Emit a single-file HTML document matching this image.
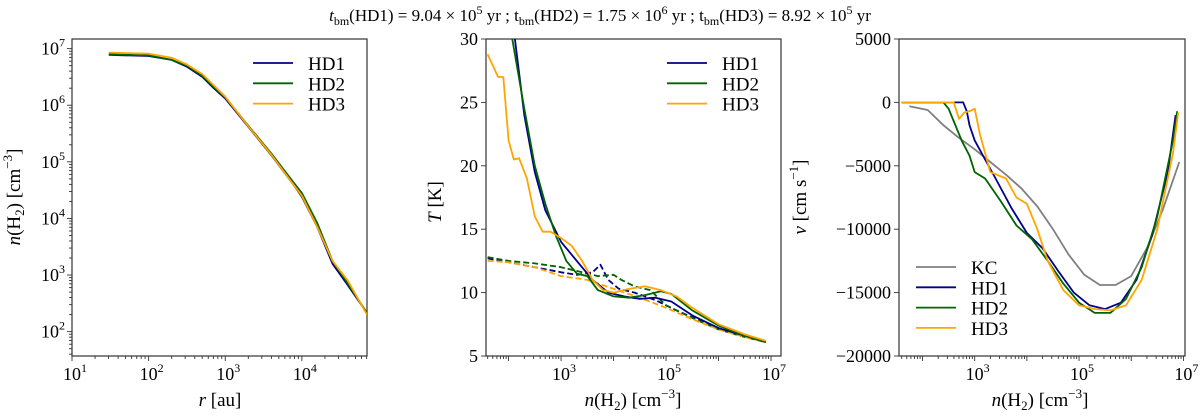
<!DOCTYPE html>
<html><head><meta charset="utf-8"><style>
body{margin:0;background:#fff}
svg{display:block;font-family:"Liberation Serif",serif}
</style></head><body>
<svg id="fig" width="1200" height="418" viewBox="0 0 1200 418" xmlns="http://www.w3.org/2000/svg">
<text x="600" y="21" text-anchor="middle" font-size="17"><tspan font-style="italic">t</tspan><tspan font-size="12" dy="4">bm</tspan><tspan dy="-4">(HD1) = 9.04 × 10</tspan><tspan font-size="12" dy="-7">5</tspan><tspan dy="7"> yr ; t</tspan><tspan font-size="12" dy="4">bm</tspan><tspan dy="-4">(HD2) = 1.75 × 10</tspan><tspan font-size="12" dy="-7">6</tspan><tspan dy="7"> yr ; t</tspan><tspan font-size="12" dy="4">bm</tspan><tspan dy="-4">(HD3) = 8.92 × 10</tspan><tspan font-size="12" dy="-7">5</tspan><tspan dy="7"> yr</tspan></text>
</svg>
<script>
// ---- data (log10 x, y) ----
const densX = [1.48,2.0,2.3,2.5,2.7,2.85,3.0,3.3,3.6,3.9,4.0,4.2,4.4,4.6,4.85];
const densHD1 = [6.89,6.87,6.8,6.68,6.5,6.3,6.12,5.62,5.12,4.58,4.38,3.85,3.2,2.82,2.33];
const densHD2 = [6.9,6.88,6.8,6.7,6.52,6.32,6.14,5.64,5.15,4.62,4.45,3.92,3.25,2.85,2.33];
const densHD3 = [6.93,6.91,6.84,6.72,6.55,6.35,6.15,5.63,5.13,4.58,4.4,3.85,3.25,2.9,2.3];

const tHD1sX = [2.12,2.3,2.5,2.7,3.0,3.3,3.6,3.9,4.2,4.5,4.8,5.1,5.5,6.0,6.5,6.9];
const tHD1s = [30,24,19.5,16.5,14,12.5,11,10,9.7,9.5,9.6,9.3,8.2,7.2,6.6,6.1];
const tHD2sX = [2.05,2.3,2.5,2.7,2.9,3.1,3.3,3.5,3.7,4.0,4.3,4.6,4.9,5.1,5.5,6.0,6.5,6.9];
const tHD2s = [30.5,24.5,20,17,14.5,12.5,11.5,11.3,10.2,9.7,9.6,9.8,10.1,9.9,8.6,7.4,6.6,6.1];
const tHD3sX = [1.6,1.8,1.9,2.0,2.1,2.2,2.35,2.5,2.65,2.8,3.0,3.2,3.4,3.6,3.8,4.0,4.3,4.6,4.9,5.2,5.5,6.0,6.5,6.9];
const tHD3s = [28.8,27,27,22,20.5,20.6,19,16,14.8,14.8,14.3,13.7,12.5,11,10.2,10,10.3,10.5,10.2,9.7,8.8,7.5,6.7,6.2];
const tHD1dX = [1.6,2.0,2.5,3.0,3.3,3.6,3.75,3.9,4.1,4.4,4.8,5.2,5.8,6.4,6.9];
const tHD1d = [12.7,12.4,12,11.6,11.4,11.6,12.2,11.0,10.3,10,9.4,8.6,7.5,6.6,6.2];
const tHD2dX = [1.6,2.0,2.5,3.0,3.4,3.7,4.0,4.15,4.4,4.7,5.0,5.5,6.0,6.5,6.9];
const tHD2d = [12.8,12.5,12.3,12,11.6,11.3,11.4,11.0,10.5,10.2,9.0,8.0,7.1,6.5,6.1];
const tHD3dX = [1.6,2.0,2.5,3.0,3.5,4.0,4.5,5.0,5.5,6.0,6.5,6.9];
const tHD3d = [12.5,12.4,12,11.3,11,10.3,9.6,8.8,7.9,7.1,6.5,6.1];

const vKCX = [1.75,2.1,2.4,2.7,3.0,3.3,3.6,3.9,4.2,4.5,4.8,5.1,5.4,5.7,6.0,6.3,6.6,6.92];
const vKC = [-300,-600,-1800,-2800,-3700,-4700,-5700,-6800,-8200,-10000,-12000,-13600,-14400,-14400,-13700,-11500,-8500,-4700];
const vHD1X = [1.6,2.78,2.85,2.9,3.0,3.2,3.4,3.7,4.0,4.3,4.6,4.9,5.2,5.5,5.8,6.1,6.4,6.7,6.85];
const vHD1 = [0,0,-700,-1800,-3000,-4500,-6000,-8300,-10300,-11500,-13300,-15000,-16000,-16300,-15800,-14000,-10500,-5500,-1000];
const vHD2X = [1.6,2.4,2.5,2.6,2.75,2.9,3.0,3.2,3.5,3.8,4.1,4.4,4.7,5.0,5.3,5.6,5.9,6.2,6.5,6.8,6.88];
const vHD2 = [0,0,-500,-1500,-3000,-4200,-5500,-6000,-7800,-9700,-10800,-12500,-14300,-15800,-16600,-16600,-15500,-13000,-9000,-3000,-700];
const vHD3X = [1.6,2.6,2.7,2.8,2.9,3.0,3.1,3.3,3.6,3.8,4.0,4.2,4.4,4.7,5.0,5.3,5.6,5.9,6.2,6.5,6.8,6.9];
const vHD3 = [0,0,-1300,-800,-700,-500,-2500,-5500,-6000,-7500,-8000,-10000,-12500,-14800,-16000,-16300,-16400,-16000,-14000,-10000,-4000,-800];

const C = {HD1:'#00008b', HD2:'#006400', HD3:'#ffa500', KC:'#808080'};
const svg = document.getElementById('fig');
const NS = 'http://www.w3.org/2000/svg';
function el(tag, attrs, parent){const e=document.createElementNS(NS,tag);for(const k in attrs)e.setAttribute(k,attrs[k]);(parent||svg).appendChild(e);return e;}

function panel(name, box, xd, yd){
  const g = el('g',{});
  
  
  const sx = v => box.x0 + (v - xd[0])/(xd[1]-xd[0])*(box.x1-box.x0);
  const sy = v => box.y1 - (v - yd[0])/(yd[1]-yd[0])*(box.y1-box.y0);
  return {g, sx, sy, box};
}
function frame(p){
  const b=p.box;
  const r=el('rect',{x:b.x0,y:b.y0,width:b.x1-b.x0,height:b.y1-b.y0,fill:'none',stroke:'#333','stroke-width':1.2},p.g);
  
  
}
function sup(p, base, exp, x, y, anchor){
  const e=el('text',{x:x,y:y,'text-anchor':anchor,'font-size':18},p.g);
  
  
  const a=el('tspan',{},e);a.textContent=base;
  const b=el('tspan',{'font-size':12,dy:-8},e);b.textContent=exp;
  return e;
}
function logTicksX(p, lo, hi, labels){
  const b=p.box;
  for(let d=Math.floor(lo); d<=Math.ceil(hi); d++){
    for(let m=1;m<10;m++){
      const v=d+Math.log10(m); if(v<lo-1e-9||v>hi+1e-9) continue;
      const x=p.sx(v); const len=m===1?5:3;
      el('line',{x1:x,x2:x,y1:b.y1,y2:b.y1+len,stroke:'#333','stroke-width':0.9},p.g);
      if(m===1 && labels.includes(d)) sup(p,'10',String(d),x+3,b.y1+24,'middle');
    }
  }
}
function logTicksY(p, lo, hi, labels){
  const b=p.box;
  for(let d=Math.floor(lo); d<=Math.ceil(hi); d++){
    for(let m=1;m<10;m++){
      const v=d+Math.log10(m); if(v<lo-1e-9||v>hi+1e-9) continue;
      const y=p.sy(v); const len=m===1?5:3;
      el('line',{x1:b.x0-len,x2:b.x0,y1:y,y2:y,stroke:'#333','stroke-width':0.9},p.g);
      if(m===1 && labels.includes(d)) sup(p,'10',String(d),b.x0-7,y+6,'end');
    }
  }
}
function linTicksY(p, vals, labels){
  const b=p.box;
  vals.forEach((v,i)=>{
    const y=p.sy(v);
    el('line',{x1:b.x0-5,x2:b.x0,y1:y,y2:y,stroke:'#333','stroke-width':0.9},p.g);
    const t=el('text',{x:b.x0-8,y:y+6,'text-anchor':'end','font-size':18},p.g);
    
    
    t.textContent=labels[i];
  });
}
function line(p, xs, ys, color, name, dash){
  const d=xs.map((x,i)=>(i?'L':'M')+p.sx(x).toFixed(1)+','+p.sy(ys[i]).toFixed(1)).join(' ');
  const e=el('path',{d:d,fill:'none',stroke:color,'stroke-width':1.8,'stroke-linejoin':'round','clip-path':'url(#'+p.clip+')'},p.g);
  if(dash) e.setAttribute('stroke-dasharray','6,3');
  
  
}
function clip(p,id){
  const c=el('clipPath',{id:id},svg); const b=p.box;
  el('rect',{x:b.x0,y:b.y0,width:b.x1-b.x0,height:b.y1-b.y0},c); p.clip=id;
}
function legend(p, x, y, names){
  const g=el('g',{},p.g);
  
  
  names.forEach((n,i)=>{
    const yy=y+i*20.3;
    el('line',{x1:x,x2:x+40,y1:yy,y2:yy,stroke:C[n],'stroke-width':1.8},g);
    const t=el('text',{x:x+55,y:yy+7,'font-size':19},g);
    
    
    t.textContent=n;
  });
}
function label(p, x, y, html, rot, name){
  const t=el('text',{x:x,y:y,'text-anchor':'middle','font-size':19},p.g);
  if(rot) t.setAttribute('transform','rotate(-90 '+x+' '+y+')');
  t.innerHTML=html;
  
  
}
const nLabel='<tspan font-style="italic">n</tspan>(H<tspan font-size="13" dy="4">2</tspan><tspan dy="-4">) [cm</tspan><tspan font-size="13" dy="-8">−3</tspan><tspan dy="8">]</tspan>';

// Panel 1
const p1=panel('density-profile-panel',{x0:72,x1:367,y0:39,y1:356},[1,4.85],[1.57,7.17]);
clip(p1,'c1'); frame(p1);
logTicksX(p1,1,4.85,[1,2,3,4]); logTicksY(p1,1.57,7.17,[2,3,4,5,6,7]);
line(p1,densX,densHD1,C.HD1,'line-hd1');
line(p1,densX,densHD2,C.HD2,'line-hd2');
line(p1,densX,densHD3,C.HD3,'line-hd3');
legend(p1,253,63,['HD1','HD2','HD3']);
label(p1,220,406,'<tspan font-style="italic">r</tspan> [au]',false,'x-axis-title');
label(p1,20,197,nLabel,true,'y-axis-title');

// Panel 2
const p2=panel('temperature-panel',{x0:486,x1:781,y0:39,y1:356},[1.57,7.19],[5,30]);
clip(p2,'c2'); frame(p2);
logTicksX(p2,1.57,7.19,[3,5,7]);
linTicksY(p2,[5,10,15,20,25,30],['5','10','15','20','25','30']);
line(p2,tHD1dX,tHD1d,C.HD1,'line-hd1-dashed',true);
line(p2,tHD2dX,tHD2d,C.HD2,'line-hd2-dashed',true);
line(p2,tHD3dX,tHD3d,C.HD3,'line-hd3-dashed',true);
line(p2,tHD1sX,tHD1s,C.HD1,'line-hd1');
line(p2,tHD2sX,tHD2s,C.HD2,'line-hd2');
line(p2,tHD3sX,tHD3s,C.HD3,'line-hd3');
legend(p2,667,63,['HD1','HD2','HD3']);
label(p2,633,406,nLabel,false,'x-axis-title');
label(p2,441,202,'<tspan font-style="italic">T</tspan> [K]',true,'y-axis-title');

// Panel 3
const p3=panel('velocity-panel',{x0:899,x1:1185,y0:39,y1:356},[1.55,7.03],[-20000,5000]);
clip(p3,'c3'); frame(p3);
logTicksX(p3,1.55,7.03,[3,5,7]);
linTicksY(p3,[-20000,-15000,-10000,-5000,0,5000],['−20000','−15000','−10000','−5000','0','5000']);
line(p3,vKCX,vKC,C.KC,'line-kc');
line(p3,vHD1X,vHD1,C.HD1,'line-hd1');
line(p3,vHD2X,vHD2,C.HD2,'line-hd2');
line(p3,vHD3X,vHD3,C.HD3,'line-hd3');
legend(p3,916,267,['KC','HD1','HD2','HD3']);
label(p3,1040,406,nLabel,false,'x-axis-title');
label(p3,806,197,'<tspan font-style="italic">v</tspan> [cm s<tspan font-size="13" dy="-8">−1</tspan><tspan dy="8">]</tspan>',true,'y-axis-title');
</script>
</body></html>
